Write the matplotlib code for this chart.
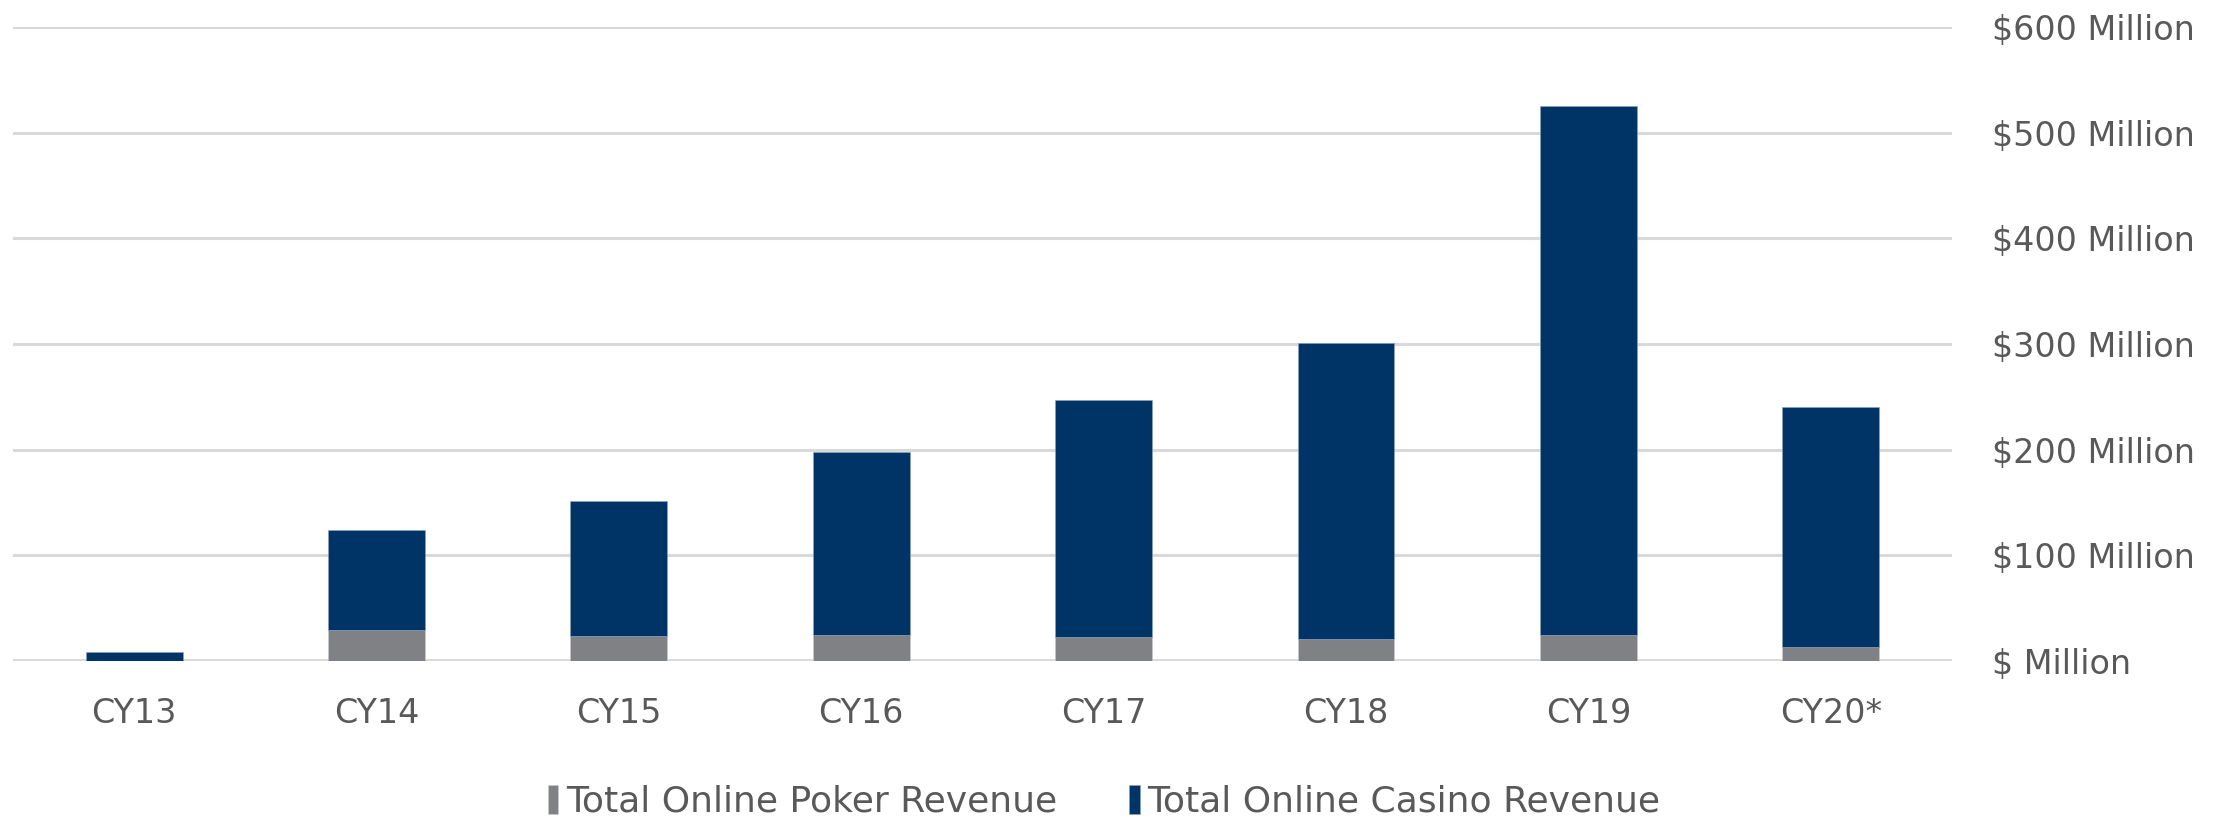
import matplotlib
matplotlib.use("Agg")
import matplotlib.pyplot as plt
import numpy as np

years = ["CY13", "CY14", "CY15", "CY16", "CY17", "CY18", "CY19", "CY20*"]
poker = [0, 29, 24, 25, 23, 21, 25, 13]
casino = [8, 95, 127, 173, 224, 280, 500, 227]
yticks = [0, 100, 200, 300, 400, 500, 600]
ylabels = ["$ Million", "$100 Million", "$200 Million", "$300 Million",
           "$400 Million", "$500 Million", "$600 Million"]

COLOUR_POKER = "#808184"
COLOUR_CASINO = "#003366"
TEXT = "#595959"
GRID = "#d9d9d9"

fig = plt.figure(figsize=(22.21, 8.19), dpi=100)
ax = fig.add_axes([0.00585, 0.193, 0.8730, 0.774])

x = np.arange(len(years))
ax.bar(x, poker, width=0.4, color=COLOUR_POKER, label="Total Online Poker Revenue",
       edgecolor="#c8ccd4", linewidth=0.4, zorder=3)
ax.bar(x, casino, width=0.4, bottom=poker, color=COLOUR_CASINO,
       edgecolor="#8fa3bf", linewidth=0.4,
       label="Total Online Casino Revenue", zorder=3)

ax.set_xlim(-0.5, len(years) - 0.5)
ax.set_ylim(0, 600)
ax.set_yticks(yticks)
ax.set_yticklabels(ylabels)
ax.yaxis.tick_right()
ax.set_xticks(x)
ax.set_xticklabels(years)
ax.tick_params(axis="y", length=0, pad=29, labelsize=24, labelcolor=TEXT)
ax.tick_params(axis="x", length=0, pad=26, labelsize=24, labelcolor=TEXT)

ax.grid(axis="y", color=GRID, linewidth=2.2, zorder=0)
ax.axhline(0, color=GRID, linewidth=3.5, zorder=2)
for s in ax.spines.values():
    s.set_visible(False)

handles, labels = ax.get_legend_handles_labels()
fig.legend(
    handles,
    labels,
    loc="center",
    bbox_to_anchor=(0.497, 0.021),
    ncol=2,
    frameon=False,
    fontsize=26,
    labelcolor=TEXT,
    handlelength=0.3,
    handleheight=0.85,
    handletextpad=0.2,
    columnspacing=2.0,
)

plt.savefig("out.png", dpi=100)
